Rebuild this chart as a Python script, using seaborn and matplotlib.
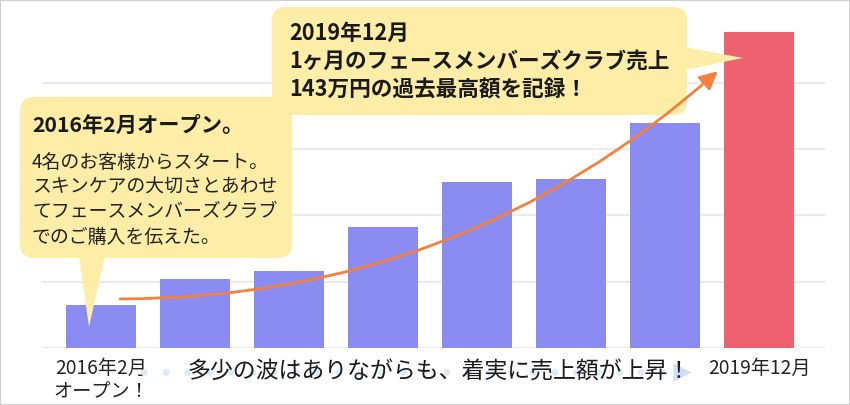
import matplotlib
matplotlib.use("Agg")
import matplotlib.pyplot as plt
import seaborn as sns
from matplotlib.patches import FancyBboxPatch, Polygon, Rectangle
from matplotlib.transforms import Affine2D, blended_transform_factory

# データ（万円）
periods = [0, 1, 2, 3, 4, 5, 6, 7]
sales = [19.5, 31.2, 34.8, 54.8, 75.1, 76.5, 101.8, 143.0]
tick_labels = ["2016年2月\nオープン！", "", "", "", "", "", "", "2019年12月"]
bar_colors = ["#8a8cf2"] * 7 + ["#ee6170"]

note1_title = "2016年2月オープン。"
note1_body = ["4名のお客様からスタート。",
              "スキンケアの大切さとあわせ",
              "てフェースメンバーズクラブ",
              "でのご購入を伝えた。"]
note2_lines = ["2019年12月",
               "1ヶ月のフェースメンバーズクラブ売上",
               "143万円の過去最高額を記録！"]
trend_text = "多少の波はありながらも、着実に売上額が上昇！"

sns.set_theme(style="white")
plt.rcParams["font.family"] = ["Noto Sans CJK JP", "DejaVu Sans"]

W, H = 850, 405
fig = plt.figure(figsize=(W / 100, H / 100), dpi=100)
ax = fig.add_axes([42 / W, 57 / H, 783 / W, 327 / H])

sns.barplot(x=periods, y=sales, hue=periods, palette=bar_colors, saturation=1,
            legend=False, width=0.75, linewidth=0, ax=ax, zorder=2)

ax.set_xlim(-0.63, 7.70)
ax.set_ylim(0, 148)
ax.set_yticks([0, 30, 60, 90, 120])
ax.set_yticklabels([])
ax.yaxis.grid(True, color="#ebebeb", lw=1.6)
ax.set_axisbelow(True)
for s in ax.spines.values():
    s.set_visible(False)
ax.set_xticks(periods)
ax.set_xticklabels(tick_labels, fontsize=13.8, color="#222222", linespacing=1.15)
ax.tick_params(length=0, pad=7)
ax.set_xlabel("")
ax.set_ylabel("")

# ピクセル座標（左上原点）
px = Affine2D().scale(1 / W, -1 / H).translate(0, 1) + fig.transFigure
yellow = "#feeda7"

# 吹き出し1
ax.add_patch(FancyBboxPatch((20, 97), 272, 161, boxstyle="round,pad=0,rounding_size=14",
                            transform=px, clip_on=False, fc=yellow, ec="none", zorder=3))
ax.add_patch(Polygon([(79, 256), (105, 256), (89, 327)], closed=True, transform=px,
                     clip_on=False, fc=yellow, ec="none", zorder=3))
ax.text(32, 125, note1_title, transform=px, fontsize=15.3, fontweight="bold",
        color="#1a1a1a", va="center", ha="left", zorder=5)
for i, line in enumerate(note1_body):
    ax.text(32, 162 + 25 * i, line, transform=px, fontsize=13.6, color="#222222",
            va="center", ha="left", zorder=5)

# 吹き出し2
ax.add_patch(FancyBboxPatch((272, 7), 415, 108, boxstyle="round,pad=0,rounding_size=14",
                            transform=px, clip_on=False, fc=yellow, ec="none", zorder=3))
ax.add_patch(Polygon([(685, 47), (685, 70), (743, 58)], closed=True, transform=px,
                     clip_on=False, fc=yellow, ec="none", zorder=3))
for i, line in enumerate(note2_lines):
    ax.text(289, 33 + 28.5 * i, line, transform=px, fontsize=15.6, fontweight="bold",
            color="#1a1a1a", va="center", ha="left", zorder=5)

# 上昇の矢印
ax.annotate("", xy=(6.56, 125.3), xytext=(0.2, 22.2),
            arrowprops=dict(arrowstyle="-|>,head_length=0.9,head_width=0.45",
                            connectionstyle="arc3,rad=0.19", color="#f5813f",
                            lw=2.0, shrinkA=0, shrinkB=0),
            zorder=6, annotation_clip=False)

# 下部の点線矢印とテキスト
trans = blended_transform_factory(ax.transData, ax.transAxes)
ty = -(372 - 348) / 327
ax.plot([0.45, 6.05], [ty, ty], transform=trans, clip_on=False, color="#dfe7fb",
        lw=5, linestyle=(0, (0.01, 3.1)), dash_capstyle="round", zorder=1)
ax.plot([6.18], [ty], transform=trans, clip_on=False, marker=">", ms=13,
        color="#cfdcfa", mec="none", zorder=1)
ax.text(3.6, ty, trend_text, transform=trans, fontsize=16.5, color="#1a1a1a",
        ha="center", va="center", zorder=5)

fig.patches.append(Rectangle((0, 0), 1, 1, transform=fig.transFigure, fill=False,
                             ec="#cfcfcf", lw=1.5))

fig.savefig("out.png", dpi=100)
